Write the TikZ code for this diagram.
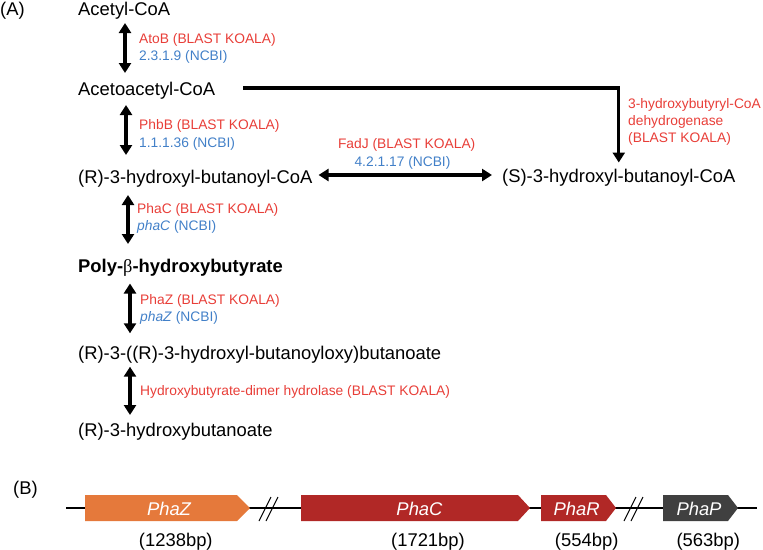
\documentclass[tikz,border=0pt]{standalone}
\usepackage{fontspec}
\setmainfont{Liberation Sans}
\newfontfamily\greekfont{Liberation Serif}
\usetikzlibrary{arrows.meta,calc}
\definecolor{keggred}{RGB}{232,62,56}
\definecolor{ncbiblue}{RGB}{66,128,200}
\definecolor{phazorange}{RGB}{229,121,59}
\definecolor{phacred}{RGB}{177,40,38}
\definecolor{phapgrey}{RGB}{64,64,64}

\begin{document}
\begin{tikzpicture}[x=1pt,y=-1pt,>={Triangle[width=12pt,length=10pt]},
    cpd/.style={anchor=base west,inner sep=0pt,font=\fontsize{18.4}{22}\selectfont},
    kegg/.style={anchor=base west,inner sep=0pt,text=keggred,font=\fontsize{13.8}{17}\selectfont},
    ncbi/.style={kegg,text=ncbiblue},
    rxn/.style={<->,line width=3.4pt},
    gene/.style={inner sep=0pt,text=white,font=\fontsize{18.4}{22}\selectfont\itshape},
    bp/.style={anchor=base,inner sep=0pt,font=\fontsize{18.4}{22}\selectfont}]
    \useasboundingbox (0,0) rectangle (763,549);
    % (A) pathway
    \node[cpd] (pa) at (0,15) {(A)};
    \node[cpd] (acetyl) at (78,15) {Acetyl-CoA};
    \node[cpd] (acetoacetyl) at (78,95) {Acetoacetyl-CoA};
    \node[cpd] (rhb) at (78,183) {(R)-3-hydroxyl-butanoyl-CoA};
    \node[cpd] (shb) at (502,182.5) {(S)-3-hydroxyl-butanoyl-CoA};
    \node[cpd,font=\fontsize{18.4}{22}\selectfont\bfseries] (phb) at (78,272.5) {Poly-{\greekfont\mdseries β}-hydroxybutyrate};
    \node[cpd] (dimer) at (78,359) {(R)-3-((R)-3-hydroxyl-butanoyloxy)butanoate};
    \node[cpd] (r3hb) at (78,436.5) {(R)-3-hydroxybutanoate};
    \node[kegg] (atob) at (139,43) {AtoB (BLAST KOALA)};
    \node[ncbi] (atobec) at (139,60) {2.3.1.9 (NCBI)};
    \node[kegg] (phbb) at (139,129) {PhbB (BLAST KOALA)};
    \node[ncbi] (phbbec) at (139,147) {1.1.1.36 (NCBI)};
    \node[kegg] (phac) at (137,213) {PhaC (BLAST KOALA)};
    \node[ncbi] (phacec) at (137,230) {\textit{phaC} (NCBI)};
    \node[kegg] (phaz) at (140,304) {PhaZ (BLAST KOALA)};
    \node[ncbi] (phazec) at (140,321) {\textit{phaZ} (NCBI)};
    \node[kegg] (hbdh) at (140,395) {Hydroxybutyrate-dimer hydrolase (BLAST KOALA)};
    \node[kegg] (hbcd) at (628,108) {3-hydroxybutyryl-CoA};
    \node[kegg] (hbcdb) at (628,125) {dehydrogenase};
    \node[kegg] (hbcdc) at (628,142) {(BLAST KOALA)};
    \node[kegg,anchor=base] (fadj) at (406.7,148.5) {FadJ (BLAST KOALA)};
    \node[ncbi,anchor=base] (fadjec) at (402.5,166.5) {4.2.1.17 (NCBI)};
    \draw[rxn] ($(acetyl.base west)+(47,8)$) -- ($(acetoacetyl.base west)+(47,-22)$);
    \draw[rxn] ($(acetoacetyl.base west)+(48,10)$) -- ($(rhb.base west)+(48,-28)$);
    \draw[rxn] ($(rhb.base west)+(50,12)$) -- ($(phb.base west)+(50,-28.5)$);
    \draw[rxn] ($(phb.base west)+(52,11)$) -- ($(dimer.base west)+(52,-25.7)$);
    \draw[rxn] ($(dimer.base west)+(52,7.7)$) -- ($(r3hb.base west)+(52,-21.5)$);
    \draw[rxn] ($(rhb.base east)+(6,-8)$) -- ($(shb.base west)+(-10,-7.5)$);
    \draw[->,line width=3.2pt] ($(acetoacetyl.base east)+(28,-7)$) -| ($(shb.base)+(0,-20)$);
    % (B) gene cluster
    \node[cpd] (pb) at (13,494.5) {(B)};
    \draw[line width=2.4pt] (66,508) -- (757,508);
    \fill[phazorange] (85,495) -- (237,495) -- (250,508) -- (237,521) -- (85,521) -- cycle;
    \fill[phacred] (301,495) -- (518,495) -- (530,508) -- (518,521) -- (301,521) -- cycle;
    \fill[phacred] (541,495) -- (606,495) -- (616,508) -- (606,521) -- (541,521) -- cycle;
    \fill[phapgrey] (663,495) -- (728,495) -- (738,508) -- (728,521) -- (663,521) -- cycle;
    \draw[line width=1pt] (259,521) -- (271,497) (266,521) -- (278,497);
    \draw[line width=1pt] (624,521) -- (636,497) (631,521) -- (643,497);
    \node[gene] (phazg) at (169,509) {PhaZ};
    \node[gene] (phacg) at (419.5,509) {PhaC};
    \node[gene] (pharg) at (576.7,509) {PhaR};
    \node[gene] (phapg) at (699,509) {PhaP};
    \node[bp] (phazbp) at (175.8,546) {(1238bp)};
    \node[bp] (phacbp) at (428,546) {(1721bp)};
    \node[bp] (pharbp) at (586.7,546) {(554bp)};
    \node[bp] (phapbp) at (708.3,546) {(563bp)};
\end{tikzpicture}
\end{document}
